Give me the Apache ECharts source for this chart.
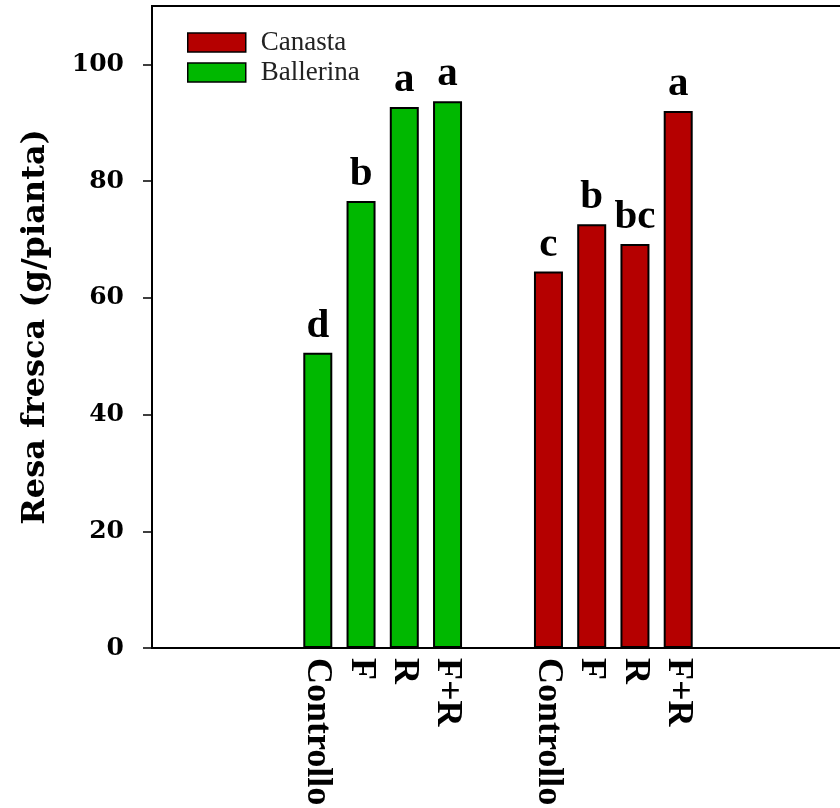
<!DOCTYPE html>
<html>
<head>
<meta charset="utf-8">
<script src="https://cdn.jsdelivr.net/npm/echarts@6/dist/echarts.min.js"></script>
<style>
html,body{margin:0;padding:0;background:#fff;}
#chart{width:840px;height:808px;}
</style>
</head>
<body>
<div id="chart"></div>
<script>
// ---- data ----
const treatments = ['Controllo', 'F', 'R', 'F+R'];
const ballerinaValues = [50.6, 76.6, 92.7, 93.7];
const canastaValues = [64.5, 72.6, 69.2, 92.0];
const ballerinaLetters = ['d', 'b', 'a', 'a'];
const canastaLetters = ['c', 'b', 'bc', 'a'];
const yTicks = [0, 20, 40, 60, 80, 100];
const seriesNames = ['Canasta', 'Ballerina'];

// ---- layout of category slots (empty slots make the spacing) ----
const slotCount = 48;
const ballerinaStart = 11;
const canastaStart = 27;
const slotStep = 3;

const categories = new Array(slotCount).fill('');
const ballerinaData = new Array(slotCount).fill('-');
const canastaData = new Array(slotCount).fill('-');
treatments.forEach((t, i) => {
  const bi = ballerinaStart + i * slotStep;
  const ci = canastaStart + i * slotStep;
  categories[bi] = t;
  categories[ci] = t;
  ballerinaData[bi] = { value: ballerinaValues[i], letter: ballerinaLetters[i] };
  canastaData[ci] = { value: canastaValues[i], letter: canastaLetters[i] };
});

const RED = '#b50000';
const GREEN = '#00b800';

const barLabel = {
  show: true,
  position: 'top',
  distance: 6,
  formatter: p => p.data.letter,
  fontFamily: 'Liberation Serif',
  fontWeight: 'bold',
  fontSize: 41,
  color: '#000'
};

const chart = echarts.init(document.getElementById('chart'), null, { renderer: 'canvas' });
chart.setOption({
  animation: false,
  backgroundColor: '#fff',
  grid: {
    left: 152, top: 6, width: 692, bottom: 160,
    outerBoundsMode: 'none',
    containLabel: false,
    show: true, borderColor: '#000', borderWidth: 2, backgroundColor: 'transparent'
  },
  legend: {
    data: seriesNames,
    orient: 'vertical',
    left: 187, top: 29,
    padding: 0,
    itemWidth: 58, itemHeight: 19, itemGap: 3,
    itemStyle: { borderColor: '#000', borderWidth: 1.5 },
    textStyle: { fontFamily: 'Liberation Serif', fontSize: 27, lineHeight: 22, color: '#222', padding: [0, 0, 0, 10] },
    icon: 'rect'
  },
  xAxis: {
    type: 'category',
    data: categories,
    axisLine: { lineStyle: { color: '#000', width: 2 } },
    axisTick: { show: false },
    splitLine: { show: false },
    axisLabel: {
      interval: 0,
      rotate: -90,
      margin: 10,
      fontFamily: 'Liberation Serif',
      fontWeight: 'bold',
      fontSize: 36,
      color: '#000'
    }
  },
  yAxis: {
    type: 'value',
    min: 0, max: 110, interval: 20,
    name: 'Resa fresca (g/pianta)',
    nameLocation: 'middle',
    nameGap: 100,
    nameTextStyle: { fontFamily: 'DejaVu Serif', fontWeight: 'bold', fontSize: 32, color: '#000' },
    axisLine: { show: true, lineStyle: { color: '#000', width: 2 } },
    axisTick: { show: true, length: 9, customValues: yTicks, lineStyle: { color: '#000', width: 1.5 } },
    splitLine: { show: false },
    axisLabel: {
      margin: 28,
      customValues: yTicks,
      fontFamily: 'DejaVu Serif', fontWeight: 'bold', fontSize: 25, color: '#000'
    }
  },
  series: [
    {
      name: 'Canasta', type: 'bar', data: canastaData,
      barWidth: 29, barGap: '-100%',
      itemStyle: { color: RED, borderColor: '#000', borderWidth: 2 },
      label: barLabel
    },
    {
      name: 'Ballerina', type: 'bar', data: ballerinaData,
      barWidth: 29, barGap: '-100%',
      itemStyle: { color: GREEN, borderColor: '#000', borderWidth: 2 },
      label: barLabel
    }
  ]
});
</script>
</body>
</html>
